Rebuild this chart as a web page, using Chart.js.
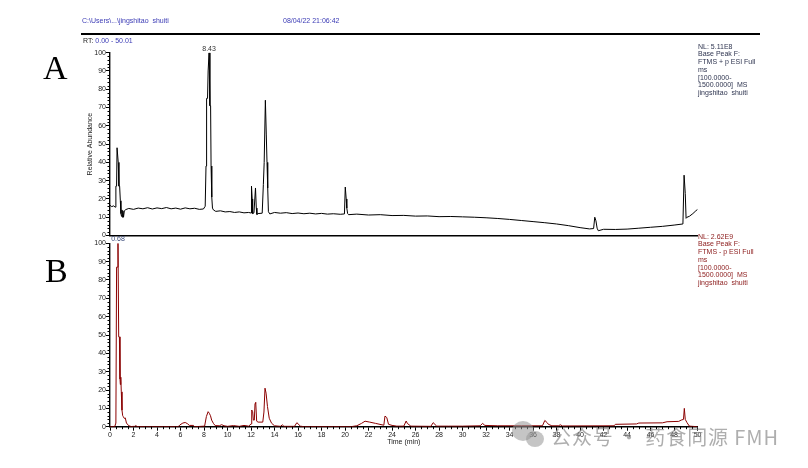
<!DOCTYPE html>
<html>
<head>
<meta charset="utf-8">
<title>Base peak chromatograms</title>
<script src="https://cdn.jsdelivr.net/npm/chart.js@4.4.1/dist/chart.umd.min.js"></script>
<style>
  html, body { margin: 0; padding: 0; background: #fff; }
  #wrap { position: relative; width: 808px; height: 468px; overflow: hidden;
          font-family: 'Liberation Sans', Arial, sans-serif; }
  canvas { position: absolute; left: 0; top: 0; }
  .t { position: absolute; font-size: 7px; line-height: 7.8px; white-space: pre; }
  .blue { color: #3b3bb5; }
  .big { position: absolute; font-family: 'Liberation Serif', 'DejaVu Serif', serif;
         font-size: 34px; line-height: 34px; color: #000; }
  .rule { position: absolute; left: 81px; top: 33px; width: 679px; height: 1.5px; background: #000; }
  .wm { position: absolute; left: 551px; top: 425px; font-family: 'Noto Sans CJK SC', sans-serif;
        font-size: 20px; line-height: 24px; letter-spacing: 0.9px; color: rgba(130,130,130,0.65); white-space: pre; }
  .bub { position: absolute; border-radius: 50%; background: rgba(150,150,150,0.55); }
</style>
</head>
<body>
<div id="wrap">
  <canvas id="chartA" width="808" height="468"></canvas>
  <canvas id="chartB" width="808" height="468"></canvas>

  <div class="t blue" style="left:82px; top:17px;">C:\Users\...\jingshitao  shuiti</div>
  <div class="t blue" style="left:283px; top:17px;">08/04/22 21:06:42</div>
  <div class="rule"></div>
  <div class="t" style="left:83px; top:37px; color:#222;">RT: <span class="blue">0.00 - 50.01</span></div>

  <div class="t" style="left:698px; top:42.5px; color:#2f3550;">NL: 5.11E8
Base Peak F:
FTMS + p ESI Full
ms
[100.0000-
1500.0000]  MS
jingshitao  shuiti</div>
  <div class="t" style="left:698px; top:232.5px; color:#8b1a1a;">NL: 2.62E9
Base Peak F:
FTMS - p ESI Full
ms
[100.0000-
1500.0000]  MS
jingshitao  shuiti</div>

  <div class="big" style="left:43px; top:50.5px;">A</div>
  <div class="big" style="left:45px; top:253.5px;">B</div>

  <div class="bub" style="left:512px; top:421px; width:22px; height:20px;"></div>
  <div class="bub" style="left:526px; top:431px; width:18px; height:16px;"></div>
  <div class="wm">公众号 · 药食同源 FMH</div>
</div>

<script>
// 上图 A：正离子模式 base peak（时间 min / 相对丰度 %）
const timeA = [
  0.00, 0.15, 0.30, 0.45, 0.50, 0.56, 0.60, 0.65, 0.70, 0.76, 0.82, 0.88, 0.93, 0.98,
  1.02, 1.06, 1.10, 1.15, 1.22, 1.35, 1.6, 2.0, 2.4, 2.8, 3.2, 3.6, 4.0, 4.4, 4.8, 5.2,
  5.6, 6.0, 6.4, 6.8, 7.2, 7.6, 7.95, 8.10, 8.17, 8.22, 8.30, 8.35, 8.43, 8.50, 8.56,
  8.60, 8.66, 8.72, 8.80, 9.0, 9.4, 9.8, 10.2, 10.6, 11.0, 11.4, 11.8, 12.00, 12.04,
  12.10, 12.14, 12.25, 12.38, 12.45, 12.50, 12.60, 12.95, 13.05, 13.12, 13.22, 13.30,
  13.36, 13.42, 13.48, 13.6, 14.0, 14.5, 15.0, 15.5, 16.0, 16.5, 17.0, 17.5, 18.0, 18.5,
  19.0, 19.6, 19.95, 20.02, 20.10, 20.15, 20.22, 20.3, 21.0, 22.0, 23.0, 24.0, 25.0,
  26.0, 27.0, 28.0, 29.0, 30.0, 31.0, 32.0, 33.0, 34.0, 35.0, 36.0, 37.0, 38.0, 39.0,
  40.0, 40.8, 41.15, 41.25, 41.35, 41.45, 41.55, 42.0, 43.0, 44.0, 45.0, 46.0, 47.0,
  48.0, 48.75, 48.85, 48.95, 49.02, 49.1, 49.3, 49.6, 49.85, 50.0
];
const abundA = [
  16.5, 15.8, 16.2, 15.5, 27, 27, 48, 48, 40, 27, 27, 19, 12, 10.5,
  14, 10, 13.5, 10, 13.5, 14.2, 14.8, 14.3, 15.0, 14.6, 15.2, 14.5, 15.1, 14.7, 15.3, 14.6,
  15.0, 14.4, 15.1, 14.6, 14.9, 14.3, 14.5, 16, 38, 75, 75, 90, 100, 71, 71,
  38, 21, 15, 14, 13.2, 13.5, 12.9, 13.1, 12.6, 12.9, 12.4, 12.6, 12.3, 27,
  20, 12, 12.4, 26, 15, 11.5, 12, 12.2, 28, 40, 74, 55,
  40, 26, 13, 11.8, 12.6, 12.2, 12.5, 12.0, 12.3, 11.9, 12.2, 11.8, 12.1, 11.7,
  11.9, 11.6, 11.8, 26.5, 20, 15, 12, 11.4, 11.7, 11.2, 11.4, 10.9, 11.0,
  10.6, 10.7, 10.3, 10.4, 10.2, 10.0, 9.7, 9.3, 8.8, 8.2, 7.6, 7.0, 6.3, 5.4,
  4.3, 3.6, 3.8, 10, 8, 4, 2.6, 3.4, 3.3, 3.5, 4.0, 4.5, 5.0,
  5.7, 6.3, 33, 23, 9.4, 10, 10.5, 12, 13.5, 14.3
];

// 下图 B：负离子模式 base peak
const timeB = [
  0.00, 0.40, 0.50, 0.56, 0.64, 0.68, 0.74, 0.80, 0.85, 0.88, 0.92, 0.96, 1.02, 1.08,
  1.13, 1.22, 1.30, 1.40, 1.6, 1.8, 2.1, 2.2, 2.3, 3.0, 5.8, 5.95, 6.2, 6.4, 6.6, 6.75,
  7.1, 7.2, 8.05, 8.2, 8.35, 8.45, 8.55, 8.65, 8.8, 8.95, 9.3, 9.5, 9.7, 10.0, 10.5,
  11.0, 11.4, 11.8, 12.0, 12.06, 12.14, 12.2, 12.28, 12.34, 12.4, 12.48, 12.6, 13.0,
  13.1, 13.19, 13.28, 13.4, 13.55, 13.75, 14.0, 14.5, 14.67, 14.8, 15.7, 15.9, 16.2,
  16.5, 20.5, 21.0, 21.4, 21.7, 22.1, 22.6, 23.3, 23.4, 23.55, 23.7, 24.0, 24.4, 25.0,
  25.2, 25.3, 25.6, 27.3, 27.5, 27.8, 28.8, 30.0, 31.5, 31.7, 31.9, 33.0, 35.0, 36.8,
  37.0, 37.2, 37.3, 37.6, 38.2, 38.3, 38.5, 42.9, 43.0, 44.8, 45.0, 47.0, 47.4, 48.4,
  48.6, 48.8, 48.87, 48.95, 49.1, 49.3, 50.0
];
const abundB = [
  0, 0, 2, 87, 87, 100, 49, 49, 26, 23, 27, 19, 9, 6,
  5.5, 4.5, 4.8, 2, 0.5, 0.1, 0.2, 0.6, 0.1, 0, 0, 1, 2, 2.3, 1.6, 0.7,
  0.7, 0, 0.3, 5.5, 8.2, 7.3, 6, 3.6, 1.8, 0.6, 0.5, 1.1, 0.5, 0.2, 0.6,
  0.2, 0.7, 0.3, 1.5, 9.1, 8.2, 3.6, 3.6, 12.7, 13.3, 3, 2.5, 2.5,
  8, 21, 18.3, 11, 4.6, 1.9, 0.5, 0.2, 1, 0.2, 0.2, 2.2, 0.3,
  0, 0, 0.5, 1.8, 3, 2.5, 1.8, 0.8, 5.8, 5, 1.3, 0.7, 0.3, 0.3,
  3.1, 1.8, 0.3, 0.2, 2.2, 0.3, 0.3, 0.3, 0.5, 1.8, 0.7, 0.5, 0.5, 0.5,
  3.4, 2.2, 1.3, 0.5, 0.5, 1.1, 0.4, 0.5, 1.3, 1.5, 2, 2.1, 2.7, 2.9,
  3.6, 4, 10, 4, 2.2, 0.3, 0
];

const timeMin = 0, timeMax = 50;
const abundMin = 0, abundMax = 100;

const tickFont = { family: "'Liberation Sans', Arial, sans-serif", size: 7 };

// 次刻度 + 峰标注
const extrasPlugin = {
  id: 'extras',
  afterDraw(chart, args, opts) {
    const ctx = chart.ctx;
    const x = chart.scales.x, y = chart.scales.y;
    const area = chart.chartArea;
    ctx.save();
    ctx.strokeStyle = '#000';
    ctx.lineWidth = 1;
    ctx.beginPath();
    for (let v = abundMin; v <= abundMax; v += 2) {
      if (v % 10 === 0) continue;
      const py = Math.round(y.getPixelForValue(v)) + 0.5;
      ctx.moveTo(area.left - 2.5, py);
      ctx.lineTo(area.left, py);
    }
    if (opts.xMinor) {
      for (let v = timeMin; v <= timeMax; v += 0.5) {
        if (v % 2 === 0) continue;
        const px = Math.round(x.getPixelForValue(v)) + 0.5;
        ctx.moveTo(px, area.bottom);
        ctx.lineTo(px, area.bottom + 2.5);
      }
    }
    ctx.stroke();

    // 最高峰的保留时间
    const data = chart.data.datasets[0].data;
    let top = data[0];
    data.forEach(p => { if (p.y > top.y) top = p; });
    ctx.fillStyle = opts.labelColor;
    ctx.font = "7px 'Liberation Sans', Arial, sans-serif";
    ctx.textAlign = 'center';
    ctx.textBaseline = 'bottom';
    ctx.fillText(top.x.toFixed(2), x.getPixelForValue(top.x), y.getPixelForValue(top.y) - 0.5);
    ctx.restore();
  }
};

function makeChart(id, times, values, color, cfg) {
  const points = times.map((t, i) => ({ x: t, y: values[i] }));
  return new Chart(document.getElementById(id), {
    type: 'line',
    data: {
      datasets: [{
        data: points,
        borderColor: color,
        borderWidth: 1,
        pointRadius: 0,
        tension: 0,
        fill: false
      }]
    },
    options: {
      responsive: false,
      animation: false,
      events: [],
      layout: { padding: cfg.padding },
      plugins: {
        legend: { display: false },
        tooltip: { enabled: false },
        extras: { xMinor: cfg.xLabels, labelColor: cfg.labelColor }
      },
      scales: {
        x: {
          type: 'linear',
          min: timeMin,
          max: timeMax,
          ticks: {
            display: cfg.xLabels,
            stepSize: 2,
            autoSkip: false,
            maxRotation: 0,
            padding: 0,
            color: '#222',
            font: tickFont
          },
          grid: {
            drawOnChartArea: false,
            drawTicks: cfg.xLabels,
            tickLength: 4,
            tickColor: '#000'
          },
          border: { color: '#000', width: 1.4 },
          title: {
            display: cfg.xLabels,
            text: 'Time (min)',
            color: '#222',
            font: tickFont,
            padding: 0
          },
          afterFit: s => { s.height = cfg.xHeight; s.paddingLeft = 0; s.paddingRight = 0; }
        },
        y: {
          min: abundMin,
          max: abundMax,
          ticks: {
            stepSize: 10,
            autoSkip: false,
            padding: 0,
            color: '#222',
            font: tickFont
          },
          grid: {
            drawOnChartArea: false,
            tickLength: 4,
            tickColor: '#000'
          },
          border: { color: '#000', width: 1.4 },
          title: {
            display: cfg.yTitle,
            text: 'Relative Abundance',
            color: '#222',
            font: tickFont,
            padding: 0
          },
          afterFit: s => { s.width = 24; s.paddingTop = 0; s.paddingBottom = 0; }
        }
      }
    },
    plugins: [extrasPlugin]
  });
}

makeChart('chartA', timeA, abundA, '#000000', {
  padding: { left: 86, top: 52.7, right: 110.4, bottom: 230.5 },
  xLabels: false,
  xHeight: 2,
  yTitle: true,
  labelColor: '#333'
});

makeChart('chartB', timeB, abundB, '#8b0000', {
  padding: { left: 86, top: 243.3, right: 110.4, bottom: 21.8 },
  xLabels: true,
  xHeight: 19.5,
  yTitle: false,
  labelColor: '#3a4a7a'
});
</script>
</body>
</html>
